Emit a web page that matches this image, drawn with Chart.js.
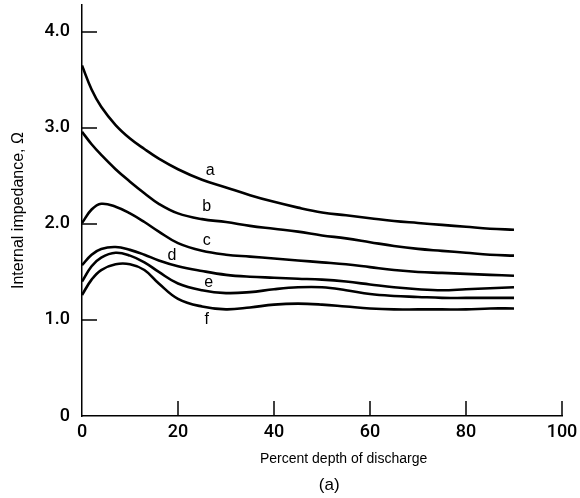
<!DOCTYPE html>
<html>
<head>
<meta charset="utf-8">
<script src="https://cdn.jsdelivr.net/npm/chart.js@4.4.1/dist/chart.umd.min.js"></script>
<style>
html, body { margin: 0; padding: 0; background: #fff; }
#wrap { width: 580px; height: 498px; }
</style>
</head>
<body>
<div id="wrap"><canvas id="impChart"></canvas></div>
<script>
// Percent depth of discharge (eixo x)
var depth = [0, 2, 4, 7, 10, 13, 16, 20, 25, 30, 35, 40, 45, 50, 55, 60, 65, 70, 75, 80, 85, 90]

// Internal impedance (ohm), uma lista por curva
var curveA = [3.65, 3.40, 3.22, 3.03, 2.89, 2.78, 2.68, 2.57, 2.46, 2.38, 2.30, 2.23, 2.17, 2.12, 2.09, 2.06, 2.03, 2.01, 1.99, 1.97, 1.95, 1.94]
var curveB = [2.96, 2.83, 2.72, 2.57, 2.44, 2.32, 2.21, 2.11, 2.05, 2.02, 1.98, 1.95, 1.92, 1.88, 1.85, 1.81, 1.77, 1.74, 1.72, 1.70, 1.68, 1.67]
var curveC = [2.01, 2.15, 2.21, 2.18, 2.11, 2.02, 1.92, 1.80, 1.72, 1.68, 1.66, 1.64, 1.62, 1.60, 1.58, 1.55, 1.52, 1.50, 1.49, 1.48, 1.47, 1.46]
var curveD = [1.57, 1.68, 1.74, 1.76, 1.73, 1.68, 1.62, 1.56, 1.51, 1.47, 1.45, 1.44, 1.43, 1.42, 1.40, 1.37, 1.34, 1.32, 1.31, 1.32, 1.33, 1.34]
var curveE = [1.40, 1.56, 1.65, 1.70, 1.67, 1.60, 1.50, 1.38, 1.31, 1.28, 1.29, 1.32, 1.34, 1.34, 1.31, 1.27, 1.25, 1.24, 1.23, 1.23, 1.23, 1.23]
var curveF = [1.26, 1.42, 1.52, 1.58, 1.58, 1.52, 1.38, 1.22, 1.14, 1.11, 1.13, 1.16, 1.17, 1.16, 1.14, 1.12, 1.11, 1.11, 1.11, 1.11, 1.12, 1.12]

// Letras das curvas e onde ficam (unidades dos dados)
var curveNames = ['a', 'b', 'c', 'd', 'e', 'f']
var labelX = [26.7, 26.0, 26.0, 18.75, 26.4, 26.0]
var labelY = [2.56, 2.18, 1.83, 1.67, 1.39, 1.00]

// Eixos
var xTicks = [0, 20, 40, 60, 80, 100]
var yTicks = [0, 1, 2, 3, 4]
var yTickLabels = ['0', '1.0', '2.0', '3.0', '4.0']
var xTitle = 'Percent depth of discharge'
var yTitle = 'Internal impedance, Ω'
var caption = '(a)'

var curves = [curveA, curveB, curveC, curveD, curveE, curveF]
var fontName = "'Liberation Sans', Arial, Helvetica, sans-serif"
var tickFont = { family: "Roboto, 'Liberation Sans', Arial, sans-serif", size: 18, weight: '500' }

// Marcas internas dos eixos, letras das curvas e textos de baixo
var marksPlugin = {
  id: 'marks',
  afterDraw: function(chart) {
    var ctx = chart.ctx
    var xs = chart.scales.x
    var ys = chart.scales.y
    var area = chart.chartArea
    ctx.save()
    ctx.strokeStyle = '#000'
    ctx.lineWidth = 1.5
    ctx.beginPath()
    yTicks.forEach(function(v) {
      if (v == 0) return
      var py = ys.getPixelForValue(v)
      ctx.moveTo(area.left, py)
      ctx.lineTo(area.left + 15, py)
    })
    xTicks.forEach(function(v) {
      if (v == 0) return
      var px = xs.getPixelForValue(v)
      ctx.moveTo(px, area.bottom)
      ctx.lineTo(px, area.bottom - 15)
    })
    ctx.stroke()

    ctx.fillStyle = '#000'
    ctx.textAlign = 'center'
    ctx.textBaseline = 'middle'
    ctx.font = '16px ' + fontName
    curveNames.forEach(function(n, i) {
      ctx.fillText(n, xs.getPixelForValue(labelX[i]), ys.getPixelForValue(labelY[i]))
    })

    // titulo do eixo x e legenda (a), um pouco deslocados como no original
    ctx.font = '14px ' + fontName
    ctx.fillText(xTitle, xs.getPixelForValue(54.5), area.bottom + 43)
    ctx.font = '17px ' + fontName
    ctx.fillText(caption, xs.getPixelForValue(51.5), area.bottom + 69)
    ctx.restore()
  }
}

var impChart = new Chart(document.getElementById('impChart'), {
  type: 'line',
  data: {
    datasets: curves.map(function(c, i) {
      return {
        label: curveNames[i],
        data: depth.map(function(x, j) { return { x: x, y: c[j] } }),
        borderColor: '#000',
        borderWidth: 2.6,
        pointRadius: 0,
        fill: false,
        tension: 0.4
      }
    })
  },
  options: {
    responsive: true,
    maintainAspectRatio: false,
    animation: false,
    layout: {
      padding: { top: 5, right: 18, left: 0, bottom: 0 }
    },
    plugins: {
      legend: { display: false },
      tooltip: { enabled: false }
    },
    scales: {
      x: {
        type: 'linear',
        min: 0,
        max: 100,
        afterBuildTicks: function(s) {
          s.ticks = xTicks.map(function(v) { return { value: v } })
        },
        afterFit: function(s) {
          s.height = 82
          s.paddingLeft = 0
          s.paddingRight = 0
        },
        grid: { display: false, drawTicks: false },
        border: { display: true, color: '#000', width: 1.5 },
        ticks: {
          color: '#000',
          padding: 6,
          maxRotation: 0,
          autoSkip: false,
          font: tickFont
        }
      },
      y: {
        type: 'linear',
        min: 0,
        max: 4.28,
        afterBuildTicks: function(s) {
          s.ticks = yTicks.map(function(v) { return { value: v } })
        },
        afterFit: function(s) {
          s.width = 82
          s.paddingTop = 0
          s.paddingBottom = 0
        },
        grid: { display: false, drawTicks: false },
        border: { display: true, color: '#000', width: 1.5 },
        ticks: {
          color: '#000',
          padding: 12,
          autoSkip: false,
          font: tickFont,
          callback: function(v) {
            return yTickLabels[yTicks.indexOf(v)]
          }
        },
        title: {
          display: true,
          text: yTitle,
          color: '#000',
          font: { family: fontName, size: 16 },
          padding: { top: 9, bottom: 0 }
        }
      }
    }
  },
  plugins: [marksPlugin]
})
</script>
</body>
</html>
